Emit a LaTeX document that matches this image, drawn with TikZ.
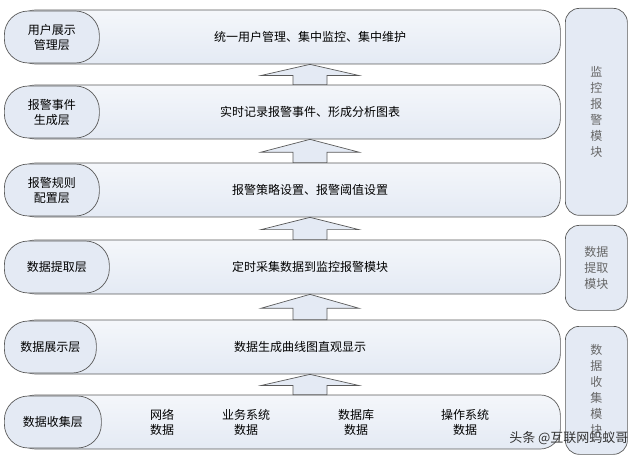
\documentclass[tikz,border=0pt]{standalone}
\usepackage{fontspec}
\setmainfont{Noto Sans CJK SC}
\usetikzlibrary{shapes,calc,positioning}
\definecolor{mfill}{HTML}{E4EAF4}
\definecolor{mline}{HTML}{5A5A5A}
\tikzstyle{layer}=[draw=mline, rounded corners=20pt, top color=mfill!40, bottom color=mfill, line width=0.7]
\tikzstyle{tag}=[draw=mline, rounded corners=24pt, fill=mfill, line width=0.7, inner sep=2pt, align=center, font=\fontsize{12}{15}\selectfont]
\tikzstyle{mod}=[draw=mline, rounded corners=14pt, fill=mfill, line width=0.7, minimum width=62pt, align=center, font=\fontsize{12}{16}\selectfont, text=black!60]
\tikzstyle{up}=[draw=mline, fill=mfill, line width=0.7]
\tikzstyle{txt}=[font=\fontsize{12}{15}\selectfont, align=center]

\begin{document}
\begin{tikzpicture}[x=1pt,y=-1pt]
    \useasboundingbox (0,0) rectangle (640,465);
    % layers
    \foreach \n/\y in {l1/37, l2/112, l3/190, l4/267, l5/347, l6/422} {
        \node (\n) [layer, minimum width=545, minimum height=54, anchor=west] at (15,\y) {};
    }
    \node (t1) [tag, minimum width=95, minimum height=52, anchor=west] at (4,37) {用户展示\\管理层};
    \node (t2) [tag, minimum width=95, minimum height=52, anchor=west] at (4,112) {报警事件\\生成层};
    \node (t3) [tag, minimum width=95, minimum height=52, anchor=west] at (4,190) {报警规则\\配置层};
    \node (t4) [tag, minimum width=105, minimum height=52, anchor=west] at (4,267) {数据提取层};
    \node (t5) [tag, minimum width=92, minimum height=52, anchor=west] at (4,347) {数据展示层};
    \node (t6) [tag, minimum width=97, minimum height=52, anchor=west] at (4,422) {数据收集层};

    \node (c1) [txt] at (310,37) {统一用户管理、集中监控、集中维护};
    \node (c2) [txt] at (310,112) {实时记录报警事件、形成分析图表};
    \node (c3) [txt] at (310,190) {报警策略设置、报警阈值设置};
    \node (c4) [txt] at (310,267) {定时采集数据到监控报警模块};
    \node (c5) [txt] at (300,347) {数据生成曲线图直观显示};
    \node (d1) [txt] at (162,422) {网络\\数据};
    \node (d2) [txt] at (246,422) {业务系统\\数据};
    \node (d3) [txt] at (356,422) {数据库\\数据};
    \node (d4) [txt] at (465,422) {操作系统\\数据};

    % arrows
    \foreach \lo/\hi in {l2/l1, l3/l2, l4/l3, l5/l4, l6/l5} {
        \coordinate (lo) at (310,0 |- \lo.north);
        \coordinate (hi) at (310,0 |- \hi.south);
        \draw[up] ($(lo)+(-17,0)$) -- ($(lo)!0.45!(hi)+(-17,0)$) -- ++(-32,0) -- (hi)
            -- ($(lo)!0.45!(hi)+(49,0)$) -- ++(-32,0) -- ($(lo)+(17,0)$) -- cycle;
    }

    % modules
    \node (m1) [mod, minimum height=207, anchor=north west] at (565,8) {监\\控\\报\\警\\模\\块};
    \node (m2) [mod, minimum height=85, anchor=north west] at (565,225) {数据\\提取\\模块};
    \node (m3) [mod, minimum height=128, anchor=north west] at (565,326) {数\\据\\收\\集\\模\\块};

    \node (wm) [font=\fontsize{13}{15}\selectfont, text=black!80, anchor=east] at (632,438) {头条 @互联网蚂蚁哥};
\end{tikzpicture}
\end{document}
